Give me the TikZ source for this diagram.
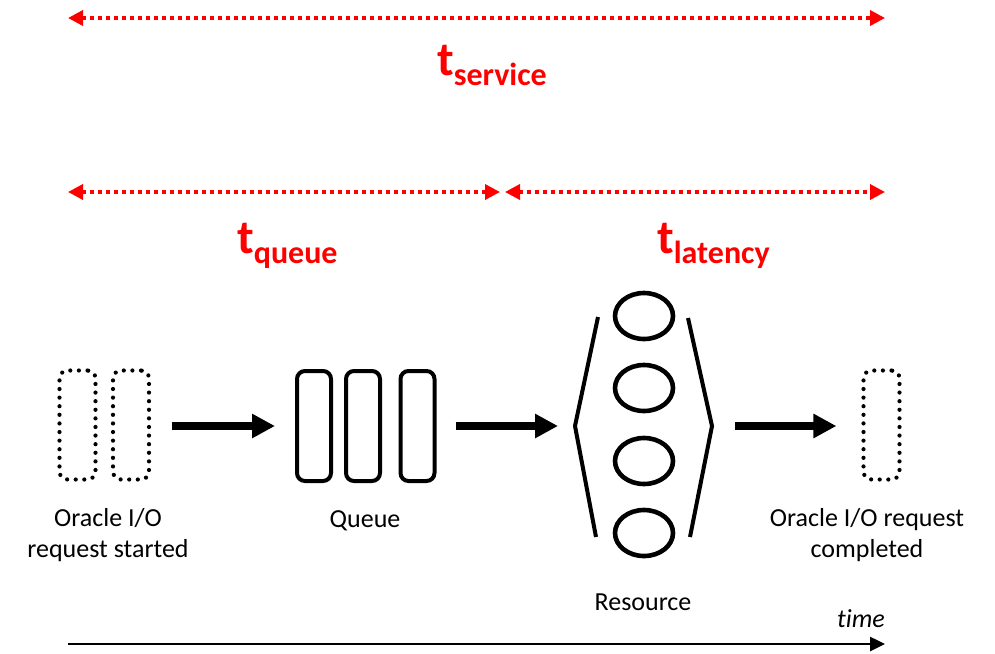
\documentclass[tikz,border=0pt]{standalone}
\usepackage{fontspec}
\setmainfont{Carlito}[Ligatures=NoCommon]
\usetikzlibrary{arrows.meta,shapes.geometric}

% red "t" with a lowered subscript
\newcommand{\tsub}[1]{{\bfseries\fontsize{48}{48}\selectfont t\raisebox{-10pt}{\fontsize{32}{32}\selectfont #1}}}

\begin{document}
\begin{tikzpicture}[x=1pt,y=-1pt,
    span/.style={red,line width=3.5pt,dash pattern=on 4pt off 4pt,
      {Triangle[length=15pt,width=15pt]}-{Triangle[length=15pt,width=15pt]}},
    flow/.style={line width=8pt,-{Triangle[length=23pt,width=23pt]}},
    pending/.style={draw,line width=4.2pt,line cap=round,dash pattern=on 0pt off 8.6pt,
      rounded corners=8pt,minimum width=36pt,minimum height=109pt,inner sep=0pt},
    slot/.style={draw,line width=4pt,rounded corners=8pt,
      minimum width=34pt,minimum height=110pt,inner sep=0pt},
    unit/.style={draw,ellipse,line width=4.6pt,minimum width=58pt,minimum height=46pt,inner sep=0pt},
    lbl/.style={font=\fontsize{26}{31}\selectfont,align=center,inner sep=0pt}]
  \useasboundingbox (0,0) rectangle (995,653);

  % time spans
  \coordinate (a0) at (68,18);   \coordinate (a1) at (885,18);
  \coordinate (b0) at (68,192);  \coordinate (b1) at (500,192);
  \coordinate (c0) at (505,192); \coordinate (c1) at (885,192);
  \draw[span] (a0) -- (a1);
  \draw[span] (b0) -- (b1);
  \draw[span] (c0) -- (c1);
  \node[red,anchor=base west,inner sep=0pt] (tsrv) at (437,75) {\tsub{service}};
  \node[red,anchor=base west,inner sep=0pt] (tque) at (237,253) {\tsub{queue}};
  \node[red,anchor=base west,inner sep=0pt] (tlat) at (657,253) {\tsub{latency}};

  % request started
  \node[pending] (st1) at (77.5,425) {};
  \node[pending] (st2) at (131,425) {};
  \node[lbl,anchor=base] (stl) at (108,557) {Oracle I/O\\request started};

  % queue
  \node[slot] (q1) at (314,426) {};
  \node[slot] (q2) at (363,426) {};
  \node[slot] (q3) at (417.5,426) {};
  \node[lbl,anchor=base] (ql) at (365,527) {Queue};

  % resource
  \node[unit] (r1) at (644,316) {};
  \node[unit] (r2) at (644,388) {};
  \node[unit] (r3) at (644,461) {};
  \node[unit] (r4) at (644,533) {};
  \coordinate (lv) at (575,426);
  \coordinate (rv) at (712,426);
  \draw[line width=4pt] (598,317) -- (lv) -- (596,537);
  \draw[line width=4pt] (688,318) -- (rv) -- (690,537);
  \node[lbl,anchor=base] (rl) at (643,610) {Resource};

  % request completed
  \node[pending] (done) at (881.5,425) {};
  \node[lbl,anchor=base] (dl) at (867,557) {Oracle I/O request\\completed};

  % flow between stages
  \draw[flow] ([xshift=21pt]st2.east |- 0,426) -- ([xshift=-20pt]q1.west);
  \draw[flow] ([xshift=19pt]q3.east) -- ([xshift=-17pt]lv);
  \draw[flow] ([xshift=23pt]rv) -- ([xshift=-25pt]done.west |- 0,426);

  % time axis
  \coordinate (t0) at (68,644);
  \coordinate (t1) at (885,644);
  \draw[line width=2.5pt,-{Triangle[length=15pt,width=14pt]}] (t0) -- (t1);
  \node[lbl,anchor=base,font=\fontsize{26}{31}\selectfont\itshape] (tm) at (861,627) {time};
\end{tikzpicture}
\end{document}
